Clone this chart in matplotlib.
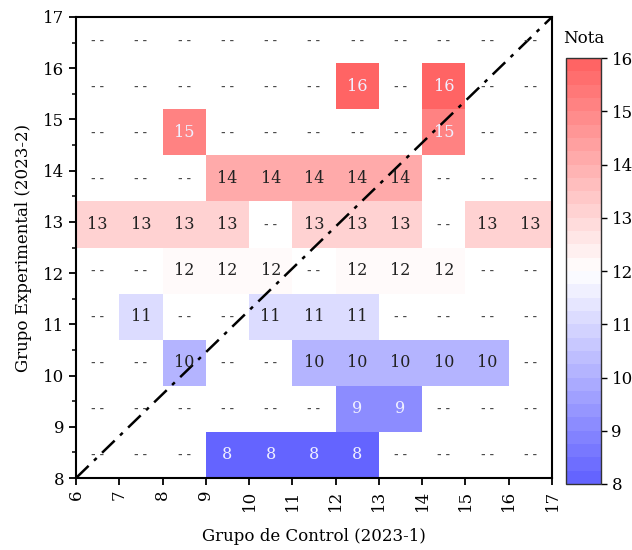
import numpy as np
import matplotlib
matplotlib.use('Agg')
import matplotlib.pyplot as plt
from matplotlib.colors import LinearSegmentedColormap, Normalize
from matplotlib.ticker import MultipleLocator

plt.rcParams['font.family'] = ['DejaVu Serif']

# columns: Grupo de Control bins (6..16), rows: Grupo Experimental (8..17)
x_edges = np.arange(6, 18)
row_vals = [8, 9, 10, 11, 12, 13, 14, 15, 16, 17]
# column indices (0 -> 6-7, ..., 10 -> 16-17) holding a value in each row
row_cols = {
    8: [3, 4, 5, 6],
    9: [6, 7],
    10: [2, 5, 6, 7, 8, 9],
    11: [1, 4, 5, 6],
    12: [2, 3, 4, 6, 7, 8],
    13: [0, 1, 2, 3, 5, 6, 7, 9, 10],
    14: [3, 4, 5, 6, 7],
    15: [2, 8],
    16: [6, 8],
    17: [],
}
cbar_ticks = [8, 9, 10, 11, 12, 13, 14, 15, 16]

ncol = len(x_edges) - 1
grid = np.full((len(row_vals), ncol), np.nan)
for i, v in enumerate(row_vals):
    for c in row_cols[v]:
        grid[i, c] = v
y_edges = np.linspace(8, 17, len(row_vals) + 1)

cmap = LinearSegmentedColormap.from_list('bwr_soft', ['#6464FF', '#FFFFFF', '#FF6464'], N=32)
norm = Normalize(vmin=8, vmax=16)

fig = plt.figure(figsize=(6.32, 5.5), dpi=100)
ax = fig.add_axes([0.1203, 0.1309, 0.7531, 0.8382])
mesh = ax.pcolormesh(x_edges, y_edges, np.ma.masked_invalid(grid), cmap=cmap, norm=norm)

xc = (x_edges[:-1] + x_edges[1:]) / 2
yc = (y_edges[:-1] + y_edges[1:]) / 2
for i, v in enumerate(row_vals):
    for j in range(ncol):
        val = grid[i, j]
        if np.isnan(val):
            ax.text(xc[j], yc[i], '- -', ha='center', va='center', fontsize=8,
                    color='#4a4a4a', fontweight='bold')
        else:
            col = '#f0f0ff' if val in (8, 9, 15, 16) else '#222222'
            ax.text(xc[j], yc[i], f'{int(val)}', ha='center', va='center', fontsize=11.5, color=col)

ax.plot([6, 17], [8, 17], color='black', lw=1.8, ls=(0, (7, 3, 1.5, 3)))

ax.set_xlim(6, 17)
ax.set_ylim(8, 17)
ax.set_xticks(range(6, 18))
ax.set_yticks(range(8, 18))
ax.yaxis.set_minor_locator(MultipleLocator(0.5))
ax.tick_params(axis='x', labelrotation=90, labelsize=12, direction='out', length=5, width=1.3)
ax.tick_params(axis='y', labelsize=12, direction='out', length=5, width=1.3)
ax.tick_params(axis='y', which='minor', direction='out', length=3, width=1.1)
for s in ax.spines.values():
    s.set_linewidth(1.5)
ax.set_xlabel('Grupo de Control (2023-1)', fontsize=12, labelpad=12)
ax.set_ylabel('Grupo Experimental (2023-2)', fontsize=12, labelpad=8)

cax = fig.add_axes([0.8956, 0.12, 0.0554, 0.7745])
cb = fig.colorbar(mesh, cax=cax, ticks=cbar_ticks)
cb.outline.set_linewidth(1.0)
cb.outline.set_edgecolor('#333333')
cax.tick_params(labelsize=12, length=4, width=1)
cax.set_title('Nota', fontsize=12, pad=11)

fig.savefig('out.png', dpi=100)
